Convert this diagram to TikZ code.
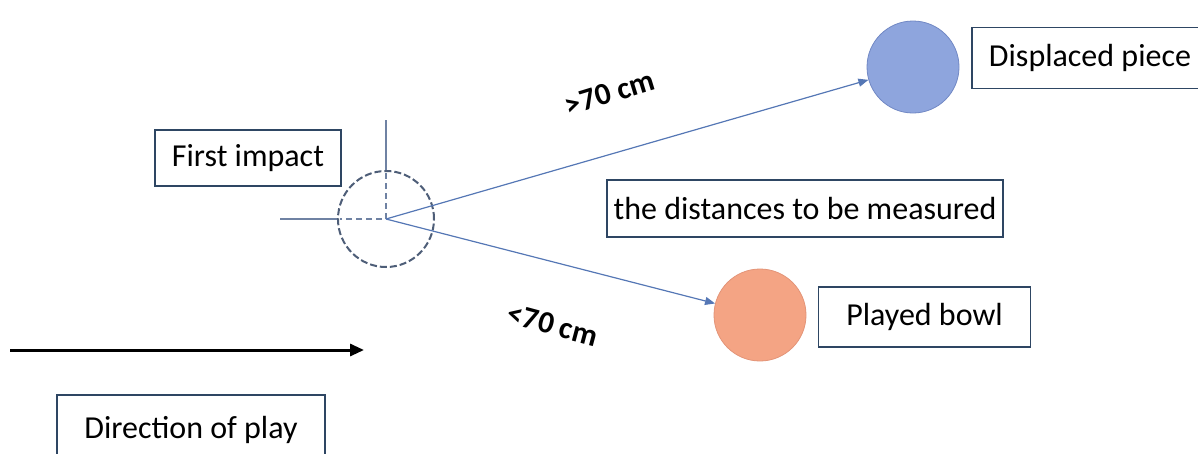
\documentclass[tikz,border=0pt]{standalone}
\usepackage{fontspec}
\setmainfont{Carlito}
\usetikzlibrary{arrows.meta}
\definecolor{boxc}{HTML}{2E4663}
\definecolor{arrc}{HTML}{5577B5}
\definecolor{crossc}{HTML}{6F82A3}
\definecolor{dashc}{HTML}{4E5E78}
\definecolor{bluef}{HTML}{8EA5DD}
\definecolor{blued}{HTML}{7188C4}
\definecolor{orangef}{HTML}{F4A484}
\definecolor{oranged}{HTML}{E39478}
\tikzset{
  lbox/.style={draw=boxc, line width=1.5pt, fill=white, inner sep=0pt, font=\fontsize{32}{38}\selectfont},
  conn/.style={draw=arrc, line width=1.2pt, -{Triangle[length=10pt,width=8pt]}},
  dist/.style={font=\bfseries\fontsize{31}{36}\selectfont},
}
\begin{document}
\begin{tikzpicture}[x=1pt,y=-1pt]
\useasboundingbox (0,0) rectangle (1198,453);
\clip (0,0) rectangle (1198,453);
% crosshair
\draw[crossc, line width=1.2pt] (386,120) -- (386,171);
\draw[crossc, line width=1.2pt] (280,219) -- (338,219);
\draw[crossc, line width=1.4pt, dash pattern=on 6pt off 4pt] (386,173) -- (386,219) -- (340,219);
\node[circle, draw=dashc, line width=2pt, dash pattern=on 7pt off 3pt, minimum size=96pt, inner sep=0pt] (imp) at (386,219) {};
\coordinate (c) at (386,219);
% balls
\node[circle, fill=bluef, draw=blued, line width=0.8pt, minimum size=92pt, inner sep=0pt] (disp) at (913,67) {};
\node[circle, fill=orangef, draw=oranged, line width=0.8pt, minimum size=92pt, inner sep=0pt] (bowl) at (760,315) {};
\draw[conn] (c) -- (disp);
\draw[conn] (c) -- (bowl);
% labels
\node[lbox, minimum width=186pt, minimum height=56pt] (fi) at (248,158) {First impact};
\node[lbox, minimum width=236pt, minimum height=61pt] (dp) at (1090,58) {Displaced piece};
\node[lbox, minimum width=396pt, minimum height=57pt] (dm) at (805,208.5) {the distances to be measured};
\node[lbox, minimum width=212pt, minimum height=60pt] (pb) at (924.5,317) {Played bowl};
\node[lbox, minimum width=268pt, minimum height=70pt] (dir) at (191,430) {Direction of play};
\node[dist, rotate=17] (gt) at (610,93) {>70 cm};
\node[dist, rotate=-15] (lt) at (553,325) {<70 cm};
% direction arrow
\coordinate (d0) at (10,350);
\coordinate (d1) at (364,350);
\draw[black, line width=3pt, -{Triangle[length=14pt,width=12pt]}] (d0) -- (d1);
\end{tikzpicture}
\end{document}
